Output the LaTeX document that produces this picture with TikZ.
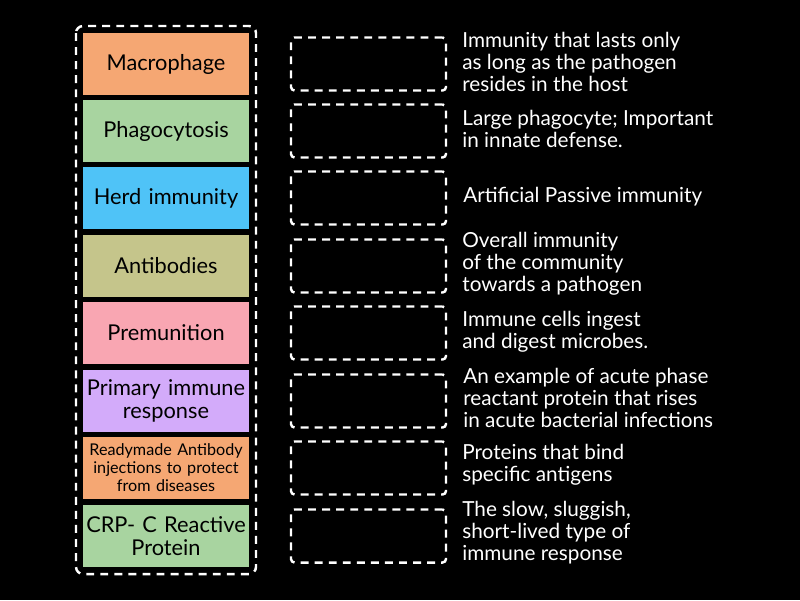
\documentclass[tikz,border=0pt]{standalone}
\usepackage{fontspec}
\setmainfont{Lato}
\definecolor{cOrange}{RGB}{245,167,115}
\definecolor{cGreen}{RGB}{168,212,160}
\definecolor{cBlue}{RGB}{79,195,247}
\definecolor{cKhaki}{RGB}{197,197,139}
\definecolor{cPink}{RGB}{249,166,178}
\definecolor{cLilac}{RGB}{211,171,250}
\begin{document}
\begin{tikzpicture}[x=0.02cm,y=-0.02cm]
    \tikzstyle{term}=[rectangle,text width=164*0.02cm,align=center,inner sep=0pt,text=black]
    \tikzstyle{slot}=[rectangle,draw=white,line width=1.4pt,dash pattern=on 4.5pt off 3.5pt,rounded corners=2pt]
    \tikzstyle{clue}=[anchor=west,align=left,inner sep=0pt,text=white,font=\fontsize{11.8}{12.5}\selectfont]
    \fill[black] (0,0) rectangle (800,600);
    \draw[white,line width=1.4pt,dash pattern=on 4.5pt off 3.5pt,rounded corners=4pt] (76,26) rectangle (256,574);

    \foreach \num/\y/\col/\sz/\sk/\txt in {1/64/cOrange/12.4/13.4/Macrophage, 2/131/cGreen/12.4/13.4/Phagocytosis,
            3/198/cBlue/12.4/13.4/Herd immunity, 4/266/cKhaki/12.4/13.4/Antibodies, 5/333/cPink/12.4/13.4/Premunition,
            6/401/cLilac/12.4/13.4/{Primary immune\\response},
            7/468/cOrange/9.2/10.2/{Readymade Antibody\\injections to protect\\from diseases},
            8/536/cGreen/12.4/13.4/{CRP- C Reactive\\Protein}}
        {
        \fill[\col] (83,\y-31) rectangle (249,\y+31);
        \node[term,font=\fontsize{\sz}{\sk}\selectfont] (T-\num) at (166,\y) {\txt};
        \node[slot,minimum width=155*0.02cm,minimum height=53*0.02cm] (S-\num) at (368.5,\y) {};
        }

    \node[clue] (C-1) at (462,62) {Immunity that lasts only\\as long as the pathogen\\resides in the host};
    \node[clue] (C-2) at (462,129) {Large phagocyte; Important\\in innate defense.};
    \node[clue] (C-3) at (463,197) {Artificial Passive immunity};
    \node[clue] (C-4) at (462,264) {Overall immunity\\of the community\\towards a pathogen};
    \node[clue] (C-5) at (462,332) {Immune cells ingest\\and digest microbes.};
    \node[clue] (C-6) at (463,398) {An example of acute phase\\reactant protein that rises\\in acute bacterial infections};
    \node[clue] (C-7) at (462,465) {Proteins that bind\\specific antigens};
    \node[clue] (C-8) at (462,533) {The slow, sluggish,\\short-lived type of\\immune response};
\end{tikzpicture}
\end{document}
